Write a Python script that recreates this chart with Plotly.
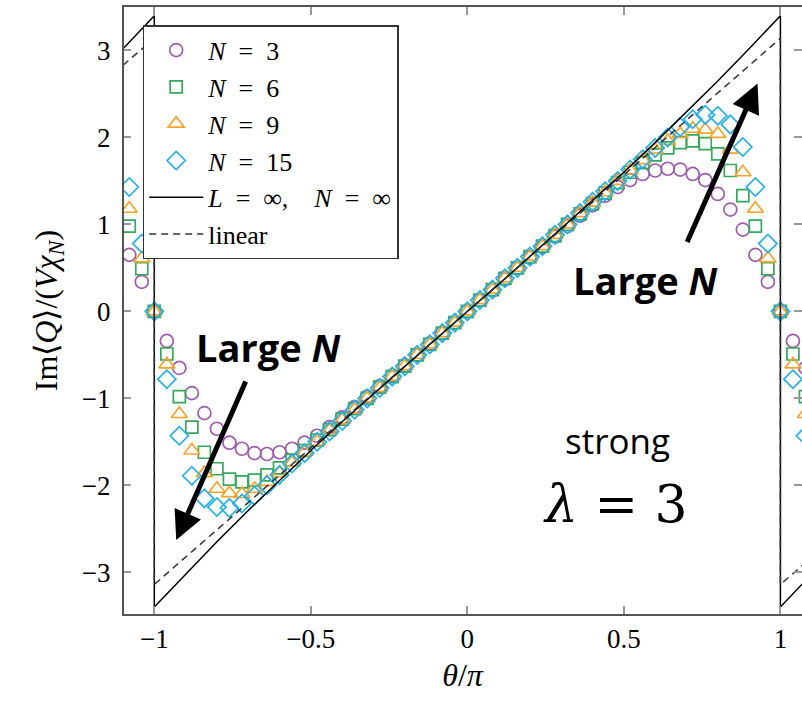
import numpy as np
import plotly.graph_objects as go

# sample grid in theta/pi (periodic copies included just past +-1)
theta = np.round(np.linspace(-1.08, 1.08, 55), 2)

q_n3 = [0.65, 0.34, 0.00, -0.34, -0.65, -0.94, -1.17, -1.35, -1.51, -1.58, -1.63, -1.64, -1.62, -1.58,
        -1.51, -1.43, -1.33, -1.22, -1.10, -0.98, -0.86, -0.74, -0.62, -0.50, -0.37, -0.25, -0.13,
        0.00, 0.13, 0.25, 0.37, 0.50, 0.62, 0.74, 0.86, 0.98, 1.10, 1.22, 1.33, 1.43, 1.51, 1.58,
        1.62, 1.64, 1.63, 1.58, 1.51, 1.35, 1.17, 0.94, 0.65, 0.34, 0.00, -0.34, -0.65]
q_n6 = [0.98, 0.49, 0.00, -0.49, -0.98, -1.33, -1.62, -1.81, -1.93, -1.96, -1.94, -1.88, -1.80, -1.71,
        -1.60, -1.48, -1.36, -1.24, -1.12, -1.00, -0.87, -0.75, -0.63, -0.50, -0.38, -0.25, -0.13,
        0.00, 0.13, 0.25, 0.38, 0.50, 0.63, 0.75, 0.87, 1.00, 1.12, 1.24, 1.36, 1.48, 1.60, 1.71,
        1.80, 1.88, 1.94, 1.96, 1.93, 1.81, 1.62, 1.33, 0.98, 0.49, 0.00, -0.49, -0.98]
q_n9 = [1.18, 0.61, 0.00, -0.61, -1.18, -1.60, -1.86, -2.04, -2.09, -2.10, -2.04, -1.96, -1.86, -1.74,
        -1.62, -1.50, -1.37, -1.25, -1.13, -1.00, -0.88, -0.75, -0.63, -0.50, -0.38, -0.25, -0.13,
        0.00, 0.13, 0.25, 0.38, 0.50, 0.63, 0.75, 0.88, 1.00, 1.13, 1.25, 1.37, 1.50, 1.62, 1.74,
        1.86, 1.96, 2.04, 2.10, 2.09, 2.04, 1.86, 1.60, 1.18, 0.61, 0.00, -0.61, -1.18]
q_n15 = [1.43, 0.78, 0.00, -0.78, -1.43, -1.89, -2.15, -2.25, -2.26, -2.21, -2.12, -2.00, -1.88, -1.75,
         -1.63, -1.50, -1.38, -1.26, -1.13, -1.00, -0.88, -0.75, -0.63, -0.50, -0.38, -0.25, -0.13,
         0.00, 0.13, 0.25, 0.38, 0.50, 0.63, 0.75, 0.88, 1.00, 1.13, 1.26, 1.38, 1.50, 1.63, 1.75,
         1.88, 2.00, 2.12, 2.21, 2.26, 2.25, 2.15, 1.89, 1.43, 0.78, 0.00, -0.78, -1.43]

# L = inf, N = inf curve (with jumps at theta = +-pi)
limit_x = [-1.1, -1.0, -1.0, -0.9, -0.8, -0.7, -0.6, -0.5, -0.4, -0.3, -0.2, -0.1, 0.0,
           0.1, 0.2, 0.3, 0.4, 0.5, 0.6, 0.7, 0.8, 0.9, 1.0, 1.0, 1.1]
limit_y = [3.02, 3.40, -3.40, -3.02, -2.65, -2.29, -1.94, -1.60, -1.27, -0.95, -0.63, -0.31, 0.0,
           0.31, 0.63, 0.95, 1.27, 1.60, 1.94, 2.29, 2.65, 3.02, 3.40, -3.40, -3.02]

# linear reference
linear_x = [-1.1, -1.0, -1.0, 1.0, 1.0, 1.1]
linear_y = [2.83, 3.14, -3.14, 3.14, -3.14, -2.83]

SP = "\u2002"  # en space, roomier math-style spacing around "="
series = [
    (f"<i>N</i>{SP}={SP}3", q_n3, "circle-open", "#9e5bb0", 13),
    (f"<i>N</i>{SP}={SP}6", q_n6, "square-open", "#35a85c", 12),
    (f"<i>N</i>{SP}={SP}9", q_n9, "triangle-up-open", "#f7a52a", 14),
    (f"<i>N</i>{SP}={SP}15", q_n15, "diamond-open", "#25b1e8", 14),
]

SERIF = "Liberation Serif, Times New Roman, serif"
SANS = "Open Sans, sans-serif"

fig = go.Figure()
for name, vals, sym, col, size in series:
    fig.add_trace(go.Scatter(
        x=theta, y=vals, mode="markers", name=name,
        marker=dict(symbol=sym, size=size, color=col, line=dict(width=1.7, color=col)),
    ))

fig.add_trace(go.Scatter(
    x=limit_x, y=limit_y, mode="lines",
    name=f"<i>L</i>{SP}={SP}∞,{SP}{SP}<i>N</i>{SP}={SP}∞",
    line=dict(color="black", width=1.5),
))
fig.add_trace(go.Scatter(
    x=linear_x, y=linear_y, mode="lines", name="linear",
    line=dict(color="#333333", width=1.5, dash="7px,5px"),
))

axis_color = "#555555"
fig.update_layout(
    width=802, height=701,
    margin=dict(l=123, r=0, t=7, b=87),
    paper_bgcolor="white", plot_bgcolor="white",
    font=dict(family=SERIF, size=26, color="black"),
    xaxis=dict(
        range=[-1.1, 1.069], tickvals=[-1, -0.5, 0, 0.5, 1],
        ticktext=["−1", "−0.5", "0", "0.5", "1"],
        ticks="inside", ticklen=8, tickwidth=1.5, tickcolor="#999999",
        showline=True, linecolor=axis_color, linewidth=2, mirror="ticks",
        showgrid=False, zeroline=False,
        tickfont=dict(family=SERIF, size=27),
        title=dict(text="<i>θ</i>/<i>π</i>", font=dict(family=SERIF, size=32), standoff=10),
    ),
    yaxis=dict(
        range=[-3.48, 3.5], tickvals=[-3, -2, -1, 0, 1, 2, 3],
        ticktext=["−3", "−2", "−1", "0", "1", "2", "3"],
        ticks="inside", ticklen=8, tickwidth=1.5, tickcolor="#999999",
        showline=True, linecolor="white", linewidth=1, mirror="ticks",
        showgrid=False, zeroline=False,
        tickfont=dict(family=SERIF, size=27),
        ticklabelstandoff=6,
        title=dict(text="Im⟨<i>Q</i>⟩/(<i>Vχ</i><sub><i>N</i></sub>)",
                   font=dict(family=SERIF, size=32), standoff=14),
    ),
    legend=dict(
        x=0.029, y=0.97, xanchor="left", yanchor="top",
        bgcolor="white", bordercolor="#333333", borderwidth=1.5,
        font=dict(family=SERIF, size=26), itemwidth=54,
        tracegroupgap=0,
    ),
    showlegend=True,
)

# left frame edge
fig.add_shape(type="line", xref="paper", yref="paper", x0=0, x1=0, y0=0, y1=1,
              line=dict(color=axis_color, width=2))

# "Large N" labels and their arrows
fig.add_annotation(x=0.569, y=0.36, text="<b>Large <i>N</i></b>", showarrow=False,
                   font=dict(family=SANS, size=38, color="black"))
fig.add_annotation(x=-0.636, y=-0.41, text="<b>Large <i>N</i></b>", showarrow=False,
                   font=dict(family=SANS, size=38, color="black"))
fig.add_annotation(x=0.927, y=2.62, ax=0.70, ay=0.78, axref="x", ayref="y",
                   text="", showarrow=True, arrowhead=2, arrowsize=1.15, arrowwidth=5,
                   arrowcolor="black")
fig.add_annotation(x=-0.93, y=-2.63, ax=-0.706, ay=-0.79, axref="x", ayref="y",
                   text="", showarrow=True, arrowhead=2, arrowsize=1.15, arrowwidth=5,
                   arrowcolor="black")

# coupling label
fig.add_annotation(x=0.479, y=-1.48, text="strong", showarrow=False,
                   font=dict(family=SANS, size=35, color="black"))
fig.add_annotation(x=0.473, y=-2.21, text="<i>λ</i> = 3", showarrow=False,
                   font=dict(family="DejaVu Serif", size=52, color="black"))

fig.write_html("out.html")
